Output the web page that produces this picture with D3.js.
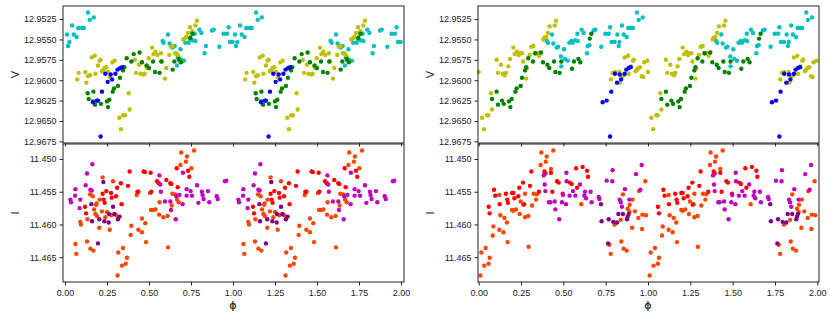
<!DOCTYPE html>
<html>
<head>
<meta charset="utf-8">
<script src="https://cdn.jsdelivr.net/npm/d3@7"></script>
<style>
  body { margin: 0; background: #fff; }
  svg text { font-family: "Liberation Sans", Arial, sans-serif; fill: #222; }
</style>
</head>
<body>
<svg id="chart"></svg>
<script>
// phased light curves, [phase, mag] pairs for phase 0..1, plotted at phase and phase+1

// left column, V band
const leftVCyan = [[0.012,12.9544],[0.026,12.9553],[0.018,12.9558],[0.052,12.9544],[0.069,12.9547],[0.042,12.9533],[0.079,12.9536],[0.101,12.9536],[0.111,12.9536],[0.137,12.9517],[0.147,12.9526],[0.171,12.9523],[0.581,12.9552],[0.587,12.9554],[0.613,12.9544],[0.623,12.9555],[0.641,12.9560],[0.653,12.9558],[0.687,12.9562],[0.659,12.9567],[0.671,12.9572],[0.667,12.9582],[0.681,12.9576],[0.692,12.9575],[0.708,12.9576],[0.716,12.9554],[0.736,12.9554],[0.744,12.9550],[0.760,12.9551],[0.776,12.9552],[0.772,12.9543],[0.800,12.9538],[0.812,12.9542],[0.839,12.9558],[0.831,12.9567],[0.875,12.9539],[0.885,12.9538],[0.919,12.9559],[0.944,12.9543],[0.964,12.9543],[0.974,12.9535],[0.982,12.9553],[0.998,12.9553]];
const leftVYellow = [[0.081,12.9591],[0.073,12.9599],[0.121,12.9590],[0.127,12.9603],[0.137,12.9595],[0.149,12.9594],[0.159,12.9572],[0.177,12.9570],[0.181,12.9592],[0.196,12.9582],[0.206,12.9576],[0.212,12.9575],[0.220,12.9589],[0.230,12.9587],[0.236,12.9585],[0.246,12.9584],[0.256,12.9590],[0.266,12.9596],[0.282,12.9578],[0.296,12.9576],[0.379,12.9616],[0.385,12.9636],[0.347,12.9643],[0.357,12.9643],[0.323,12.9646],[0.333,12.9660],[0.415,12.9575],[0.423,12.9591],[0.440,12.9581],[0.450,12.9592],[0.466,12.9593],[0.474,12.9592],[0.458,12.9578],[0.484,12.9583],[0.490,12.9585],[0.498,12.9573],[0.518,12.9560],[0.526,12.9568],[0.538,12.9565],[0.550,12.9569],[0.571,12.9567],[0.577,12.9577],[0.595,12.9598],[0.603,12.9585],[0.621,12.9569],[0.629,12.9559],[0.641,12.9558],[0.655,12.9567],[0.667,12.9568],[0.677,12.9571],[0.704,12.9550],[0.712,12.9549],[0.722,12.9547],[0.732,12.9542],[0.744,12.9535],[0.776,12.9533],[0.786,12.9527],[0.758,12.9540]];
const leftVGreen = [[0.135,12.9616],[0.169,12.9614],[0.141,12.9623],[0.167,12.9626],[0.179,12.9630],[0.214,12.9629],[0.250,12.9626],[0.264,12.9624],[0.256,12.9633],[0.284,12.9614],[0.292,12.9610],[0.315,12.9607],[0.327,12.9597],[0.345,12.9588],[0.353,12.9584],[0.367,12.9573],[0.395,12.9577],[0.409,12.9568],[0.444,12.9566],[0.458,12.9578],[0.486,12.9582],[0.500,12.9585],[0.524,12.9577],[0.536,12.9590],[0.563,12.9591],[0.573,12.9577],[0.641,12.9587],[0.651,12.9577],[0.677,12.9574],[0.690,12.9578],[0.746,12.9548],[0.758,12.9543]];
const leftVBlue = [[0.167,12.9627],[0.190,12.9625],[0.196,12.9625],[0.220,12.9614],[0.240,12.9592],[0.254,12.9602],[0.272,12.9593],[0.280,12.9599],[0.300,12.9592],[0.313,12.9587],[0.329,12.9585],[0.341,12.9584],[0.212,12.9669]];

// left column, I band
const leftIOrange = [[0.692,11.4490],[0.768,11.4487],[0.726,11.4496],[0.720,11.4504],[0.687,11.4509],[0.752,11.4514],[0.224,11.4528],[0.286,11.4534],[0.149,11.4554],[0.165,11.4557],[0.427,11.4555],[0.506,11.4552],[0.639,11.4553],[0.657,11.4554],[0.206,11.4562],[0.188,11.4568],[0.185,11.4570],[0.563,11.4566],[0.635,11.4571],[0.667,11.4562],[0.677,11.4566],[0.173,11.4577],[0.181,11.4584],[0.190,11.4587],[0.220,11.4580],[0.250,11.4581],[0.240,11.4589],[0.276,11.4586],[0.304,11.4586],[0.538,11.4577],[0.512,11.4578],[0.524,11.4578],[0.560,11.4585],[0.585,11.4589],[0.611,11.4587],[0.133,11.4592],[0.458,11.4591],[0.478,11.4598],[0.091,11.4596],[0.095,11.4600],[0.204,11.4605],[0.266,11.4608],[0.395,11.4602],[0.437,11.4608],[0.458,11.4612],[0.391,11.4616],[0.062,11.4630],[0.067,11.4645],[0.131,11.4626],[0.151,11.4637],[0.169,11.4640],[0.482,11.4627],[0.613,11.4635],[0.345,11.4636],[0.317,11.4643],[0.369,11.4651],[0.361,11.4660],[0.339,11.4663],[0.313,11.4678]];
const leftIRed = [[0.665,11.4514],[0.732,11.4518],[0.740,11.4527],[0.385,11.4519],[0.468,11.4519],[0.476,11.4520],[0.510,11.4521],[0.333,11.4537],[0.375,11.4541],[0.548,11.4534],[0.558,11.4537],[0.603,11.4532],[0.627,11.4537],[0.633,11.4538],[0.671,11.4543],[0.246,11.4549],[0.274,11.4552],[0.224,11.4553],[0.304,11.4557],[0.310,11.4544],[0.431,11.4550],[0.437,11.4550],[0.514,11.4550],[0.230,11.4562],[0.236,11.4567],[0.278,11.4559],[0.337,11.4569],[0.119,11.4573],[0.125,11.4583]];
const leftIMagenta = [[0.702,11.4521],[0.163,11.4508],[0.131,11.4522],[0.562,11.4525],[0.123,11.4540],[0.567,11.4539],[0.786,11.4540],[0.952,11.4534],[0.960,11.4533],[0.062,11.4546],[0.151,11.4547],[0.159,11.4548],[0.060,11.4556],[0.571,11.4550],[0.681,11.4555],[0.663,11.4557],[0.724,11.4546],[0.748,11.4549],[0.756,11.4556],[0.724,11.4556],[0.815,11.4550],[0.819,11.4555],[0.851,11.4549],[0.903,11.4557],[0.909,11.4561],[0.032,11.4562],[0.036,11.4566],[0.091,11.4562],[0.595,11.4565],[0.627,11.4565],[0.700,11.4569],[0.794,11.4567],[0.825,11.4561],[0.859,11.4566],[0.087,11.4575],[0.631,11.4578],[0.659,11.4592]];
const leftIPurple = [[0.228,11.4535],[0.157,11.4569],[0.286,11.4573],[0.262,11.4584],[0.294,11.4584],[0.325,11.4588],[0.315,11.4592],[0.161,11.4595],[0.204,11.4592],[0.234,11.4595],[0.260,11.4597],[0.196,11.4629]];

// right column, V band
const rightVCyan = [[0.402,12.9552],[0.409,12.9554],[0.433,12.9544],[0.441,12.9555],[0.461,12.9560],[0.469,12.9559],[0.486,12.9571],[0.488,12.9583],[0.504,12.9562],[0.510,12.9574],[0.526,12.9576],[0.535,12.9554],[0.549,12.9552],[0.555,12.9554],[0.571,12.9551],[0.585,12.9552],[0.583,12.9543],[0.608,12.9538],[0.620,12.9542],[0.640,12.9567],[0.644,12.9558],[0.654,12.9557],[0.679,12.9539],[0.689,12.9538],[0.724,12.9559],[0.748,12.9543],[0.768,12.9543],[0.776,12.9535],[0.785,12.9553],[0.803,12.9553],[0.819,12.9544],[0.827,12.9558],[0.831,12.9553],[0.846,12.9533],[0.856,12.9544],[0.874,12.9547],[0.884,12.9536],[0.902,12.9536],[0.911,12.9536],[0.935,12.9517],[0.945,12.9526],[0.969,12.9523]];
const rightVYellow = [[0.000,12.9590],[0.020,12.9646],[0.031,12.9660],[0.049,12.9643],[0.057,12.9643],[0.073,12.9616],[0.079,12.9636],[0.106,12.9575],[0.114,12.9591],[0.132,12.9581],[0.142,12.9592],[0.154,12.9594],[0.161,12.9591],[0.175,12.9583],[0.185,12.9574],[0.205,12.9560],[0.213,12.9568],[0.226,12.9565],[0.236,12.9569],[0.246,12.9567],[0.256,12.9567],[0.262,12.9577],[0.280,12.9598],[0.285,12.9585],[0.301,12.9569],[0.311,12.9559],[0.323,12.9558],[0.331,12.9567],[0.339,12.9567],[0.350,12.9567],[0.358,12.9570],[0.382,12.9550],[0.388,12.9548],[0.398,12.9547],[0.409,12.9542],[0.419,12.9534],[0.449,12.9533],[0.457,12.9527],[0.781,12.9599],[0.791,12.9591],[0.805,12.9590],[0.831,12.9590],[0.835,12.9603],[0.850,12.9595],[0.858,12.9594],[0.862,12.9572],[0.882,12.9570],[0.886,12.9592],[0.900,12.9583],[0.911,12.9576],[0.917,12.9575],[0.927,12.9589],[0.935,12.9587],[0.943,12.9585],[0.953,12.9584],[0.963,12.9595],[0.972,12.9596],[0.978,12.9578],[0.996,12.9576]];
const rightVGreen = [[0.106,12.9614],[0.079,12.9623],[0.114,12.9630],[0.138,12.9625],[0.148,12.9629],[0.179,12.9626],[0.187,12.9633],[0.195,12.9623],[0.217,12.9614],[0.224,12.9610],[0.248,12.9607],[0.256,12.9597],[0.274,12.9588],[0.280,12.9584],[0.293,12.9573],[0.321,12.9577],[0.335,12.9567],[0.368,12.9566],[0.380,12.9578],[0.406,12.9581],[0.417,12.9585],[0.445,12.9577],[0.453,12.9590],[0.478,12.9591],[0.488,12.9577],[0.551,12.9586],[0.563,12.9577],[0.589,12.9574],[0.600,12.9578],[0.656,12.9549],[0.665,12.9543]];
const rightVBlue = [[0.732,12.9627],[0.756,12.9625],[0.783,12.9614],[0.805,12.9592],[0.817,12.9603],[0.833,12.9593],[0.841,12.9599],[0.862,12.9592],[0.872,12.9587],[0.886,12.9585],[0.898,12.9584],[0.776,12.9669]];

// right column, I band
const rightIOrange = [[0.370,11.4490],[0.441,11.4487],[0.402,11.4496],[0.396,11.4504],[0.366,11.4509],[0.427,11.4515],[0.984,11.4534],[0.274,11.4553],[0.325,11.4553],[0.339,11.4562],[0.344,11.4554],[0.606,11.4569],[0.947,11.4549],[0.852,11.4554],[0.909,11.4562],[0.892,11.4570],[0.122,11.4555],[0.087,11.4603],[0.083,11.4617],[0.128,11.4586],[0.152,11.4590],[0.167,11.4597],[0.122,11.4608],[0.146,11.4612],[0.171,11.4627],[0.197,11.4578],[0.205,11.4579],[0.220,11.4577],[0.242,11.4584],[0.248,11.4565],[0.274,11.4589],[0.293,11.4587],[0.264,11.4570],[0.315,11.4571],[0.295,11.4634],[0.772,11.4631],[0.780,11.4645],[0.803,11.4600],[0.839,11.4593],[0.856,11.4637],[0.874,11.4640],[0.843,11.4626],[0.906,11.4605],[0.923,11.4580],[0.943,11.4590],[0.965,11.4607],[0.967,11.4585],[0.988,11.4586],[0.880,11.4576],[0.890,11.4581],[0.016,11.4643],[0.041,11.4636],[0.033,11.4663],[0.065,11.4651],[0.059,11.4660],[0.010,11.4678]];
const rightIRed = [[0.311,11.4519],[0.388,11.4519],[0.394,11.4522],[0.427,11.4521],[0.575,11.4514],[0.614,11.4512],[0.640,11.4518],[0.646,11.4527],[0.091,11.4547],[0.098,11.4556],[0.161,11.4553],[0.197,11.4552],[0.205,11.4552],[0.234,11.4557],[0.240,11.4544],[0.262,11.4536],[0.303,11.4541],[0.356,11.4550],[0.211,11.4560],[0.169,11.4562],[0.173,11.4567],[0.124,11.4569],[0.268,11.4569],[0.435,11.4550],[0.463,11.4534],[0.472,11.4536],[0.496,11.4553],[0.539,11.4536],[0.549,11.4538],[0.581,11.4544],[0.059,11.4573],[0.065,11.4583]];
const rightIMagenta = [[0.384,11.4525],[0.518,11.4521],[0.963,11.4509],[0.929,11.4523],[0.791,11.4517],[0.756,11.4533],[0.789,11.4534],[0.394,11.4549],[0.390,11.4539],[0.520,11.4534],[0.498,11.4555],[0.537,11.4556],[0.557,11.4549],[0.571,11.4556],[0.598,11.4539],[0.628,11.4550],[0.624,11.4556],[0.634,11.4560],[0.661,11.4550],[0.709,11.4558],[0.713,11.4561],[0.415,11.4566],[0.423,11.4566],[0.449,11.4565],[0.492,11.4566],[0.516,11.4569],[0.453,11.4577],[0.476,11.4592],[0.667,11.4566],[0.864,11.4546],[0.955,11.4547],[0.890,11.4562],[0.833,11.4562],[0.839,11.4566],[0.846,11.4573]];
const rightIPurple = [[0.722,11.4569],[0.726,11.4595],[0.768,11.4592],[0.795,11.4596],[0.817,11.4597],[0.825,11.4584],[0.852,11.4584],[0.880,11.4588],[0.886,11.4584],[0.876,11.4592],[0.764,11.4629]];

const phaseTicks = [0, 0.25, 0.5, 0.75, 1, 1.25, 1.5, 1.75, 2];
const vTicks = [12.9525, 12.955, 12.9575, 12.96, 12.9625, 12.965, 12.9675];
const iTicks = [11.450, 11.455, 11.460, 11.465];

const colors = {
  cyan: '#00bfbf', yellow: '#bfbf00', green: '#008000', blue: '#0000ff',
  orange: '#ff4500', red: '#ff0000', magenta: '#bf00bf', purple: '#800080'
};

const W = 830, H = 319;
const svg = d3.select('#chart').attr('width', W).attr('height', H);

const topY = d3.scaleLinear().domain([12.9509, 12.9677]).range([6, 143]);
const botY = d3.scaleLinear().domain([11.4477, 11.4688]).range([144, 282]);

const columns = [
  { x: d3.scaleLinear().domain([-0.012, 2.018]).range([63, 404]),
    top: [[leftVCyan, 'cyan'], [leftVYellow, 'yellow'], [leftVGreen, 'green'], [leftVBlue, 'blue']],
    bot: [[leftIOrange, 'orange'], [leftIRed, 'red'], [leftIMagenta, 'magenta'], [leftIPurple, 'purple']] },
  { x: d3.scaleLinear().domain([-0.004, 2.01]).range([478, 819]),
    top: [[rightVCyan, 'cyan'], [rightVYellow, 'yellow'], [rightVGreen, 'green'], [rightVBlue, 'blue']],
    bot: [[rightIOrange, 'orange'], [rightIRed, 'red'], [rightIMagenta, 'magenta'], [rightIPurple, 'purple']] }
];

function styleAxis(g) {
  g.select('.domain').remove();
  g.selectAll('.tick line').attr('stroke', '#222');
  g.selectAll('.tick text').style('font-size', '9px').attr('fill', '#222');
}

function panel(x, y, series, yTicks, fmt, showX, label) {
  const [x0, x1] = x.range();
  const [y0, y1] = y.range();
  const g = svg.append('g');

  // points, each drawn at phase and phase + 1
  series.forEach(([pts, c]) => {
    const doubled = pts.flatMap(([p, m]) => [[p, m], [p + 1, m]]);
    g.selectAll(null)
      .data(doubled)
      .join('circle')
      .attr('cx', d => x(d[0]))
      .attr('cy', d => y(d[1]))
      .attr('r', 2.2)
      .attr('fill', colors[c]);
  });

  // y axis
  svg.append('g')
    .attr('transform', `translate(${x0},0)`)
    .call(d3.axisLeft(y).tickValues(yTicks).tickFormat(d3.format(fmt)).tickSize(3.5).tickPadding(3))
    .call(styleAxis);

  // x axis
  svg.append('g')
    .attr('transform', `translate(0,${y1})`)
    .call(d3.axisBottom(x).tickValues(phaseTicks).tickFormat(showX ? d3.format('.2f') : '').tickSize(3.5).tickPadding(4))
    .call(styleAxis);

  // frame
  svg.append('rect')
    .attr('x', x0).attr('y', y0)
    .attr('width', x1 - x0).attr('height', y1 - y0)
    .attr('fill', 'none').attr('stroke', '#222').attr('stroke-width', 1);

  svg.append('text')
    .attr('transform', `translate(${x0 - 48},${(y0 + y1) / 2}) rotate(-90)`)
    .attr('text-anchor', 'middle')
    .attr('dominant-baseline', 'central')
    .style('font-size', '11px')
    .text(label);
}

columns.forEach(col => {
  panel(col.x, topY, col.top, vTicks, '.4f', false, 'V');
  panel(col.x, botY, col.bot, iTicks, '.3f', true, 'I');

  // x label; a thin stroke keeps the glyph grey instead of colour-fringed
  svg.append('text')
    .attr('x', col.x(1))
    .attr('y', 309)
    .attr('text-anchor', 'middle')
    .style('font-family', '"DejaVu Sans", sans-serif')
    .style('font-size', '11px')
    .style('fill', '#222')
    .style('stroke', '#222')
    .style('stroke-width', 0.2)
    .text('\u03D5');
});
</script>
</body>
</html>
